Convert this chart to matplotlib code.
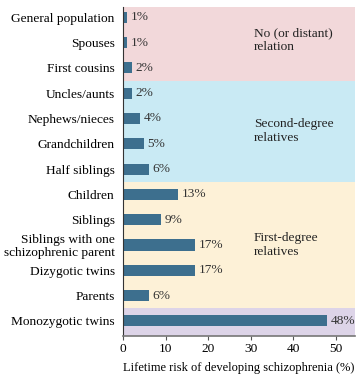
import matplotlib
matplotlib.use("Agg")
import matplotlib.pyplot as plt
import numpy as np

# data
relations = ["General population", "Spouses", "First cousins",
             "Uncles/aunts", "Nephews/nieces", "Grandchildren", "Half siblings",
             "Children", "Siblings", "Siblings with one\nschizophrenic parent",
             "Dizygotic twins", "Parents", "Monozygotic twins"]
risk = [1, 1, 2, 2, 4, 5, 6, 13, 9, 17, 17, 6, 48]

groups = ["No (or distant)\nrelation", "Second-degree\nrelatives",
          "First-degree\nrelatives", ""]
group_sizes = [3, 4, 5, 1]
group_colors = ["#f2d8da", "#c9eaf4", "#fdf1d7", "#ddd4e8"]

bar_color = "#3d6f8e"
fs = 9.6
plt.rcParams["font.family"] = ["Liberation Serif", "DejaVu Serif"]

fig = plt.figure(figsize=(3.64, 3.78), dpi=100)
ax = fig.add_axes([0.338, 0.111, 0.637, 0.870])

y = np.arange(len(relations))
ax.set_xlim(0, 54.5)
ax.set_ylim(len(relations) - 0.4, -0.4)

# background bands for relation groups
start = 0
for name, size, col in zip(groups, group_sizes, group_colors):
    lo = start - 0.5 if start > 0 else -0.4
    hi = start + size - 0.5 if start + size < len(relations) else len(relations) - 0.4
    ax.axhspan(lo, hi, color=col, zorder=0, lw=0)
    if name:
        mid = start + (size - 1) / 2
        if start == 0:
            mid -= 0.1
        ax.text(30.7, mid, name, fontsize=fs, color="#222222",
                va="center", ha="left", linespacing=1.15)
    start += size

ax.barh(y, risk, height=0.44, color=bar_color, zorder=2)
for yi, v in zip(y, risk):
    ax.text(v + 0.8, yi, f"{v}%", va="center", ha="left", fontsize=fs,
            color="#333333")

ax.set_yticks(y)
ax.set_yticklabels(relations, fontsize=fs, linespacing=1.05)
ax.tick_params(axis="y", length=0, pad=6)
ax.set_xticks([0, 10, 20, 30, 40, 50])
ax.tick_params(axis="x", labelsize=fs, length=3, color="#555555", pad=2)
ax.set_xlabel("Lifetime risk of developing schizophrenia (%)", fontsize=9.0,
              labelpad=5)

for s in ["top", "right"]:
    ax.spines[s].set_visible(False)
ax.spines["left"].set_color("#333333")
ax.spines["bottom"].set_color("#777777")
ax.spines["bottom"].set_linewidth(1.2)

fig.savefig("out.png", dpi=100)
